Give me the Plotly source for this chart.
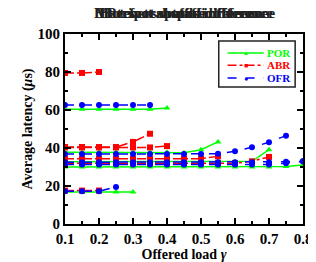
import plotly.graph_objects as go

# ---------------- data ----------------
loads = [0.10, 0.15, 0.20, 0.25, 0.30, 0.35, 0.40, 0.45, 0.50, 0.55, 0.60, 0.65, 0.70, 0.75, 0.80]
N = None

# POR (solid green, triangles)
por_a = [60.4, 60.4, 60.4, 60.4, 60.4, 60.4, 61.0, N, N, N, N, N, N, N, N]
por_b = [16.8, 16.8, 16.8, 16.8, 16.8, N, N, N, N, N, N, N, N, N, N]
por_c = [37.7, 37.7, 37.7, 37.7, 37.7, 37.7, 37.7, 37.5, 39.1, 43.2, N, N, N, N, N]
por_d = [32.8, 32.8, 32.8, 32.8, 32.8, 32.8, 32.8, 32.8, 32.8, 32.8, 32.8, 33.0, 39.1, N, N]
por_e = [30.0, 30.0, 30.0, 30.0, 30.0, 30.0, 30.0, 30.0, 30.0, 30.0, 30.0, 30.0, 30.0, 30.2, 31.0]

# ABR (dash-dot red, squares)
abr_a = [79.5, 79.5, 80.0, N, N, N, N, N, N, N, N, N, N, N, N]
abr_b = [17.6, 17.6, 17.6, N, N, N, N, N, N, N, N, N, N, N, N]
abr_c = [40.5, 40.5, 40.5, 40.5, 43.2, 47.5, N, N, N, N, N, N, N, N, N]
abr_f = [40.3, 40.3, 40.3, 40.3, 40.3, 40.3, 41.0, N, N, N, N, N, N, N, N]
abr_d = [34.3, 34.3, 34.3, 34.3, 34.3, 34.3, 34.3, 34.3, 34.4, 35.6, N, N, N, N, N]
abr_e = [32.0, 32.0, 32.0, 32.0, 32.0, 32.0, 32.0, 32.0, 32.0, 32.0, 32.0, 33.0, 35.3, N, N]

# OFR (dashed blue, circles)
ofr_a = [62.6, 62.6, 62.6, 62.6, 62.6, 62.6, N, N, N, N, N, N, N, N, N]
ofr_b = [17.2, 17.2, 17.2, 19.5, N, N, N, N, N, N, N, N, N, N, N]
ofr_c = [36.8, 36.8, 36.8, 36.8, 36.8, 36.8, 36.8, 36.8, 36.8, 37.0, 38.3, 40.4, 43.0, 46.5, N]
ofr_d = [32.5, 32.5, 32.5, 32.5, 32.5, 32.5, 32.5, 32.5, 32.5, 32.5, 32.5, 32.5, 32.5, 32.8, 33.0]
ofr_e = [31.3, 31.3, 31.3, 31.3, 31.3, 31.3, 31.3, 31.3, 31.3, 31.3, 31.3, 31.3, 31.3, 32.0, 33.0]

titles = ["Bit reversal traffic reference", "Hot spot spatial difference",
          "Matrix transpose difference", "Perfect shuffle influence"]

legend_names = ["POR", "ABR", "OFR"]

x_ticks = [0.1, 0.2, 0.3, 0.4, 0.5, 0.6, 0.7, 0.8]
y_ticks = [0, 20, 40, 60, 80, 100]

GREEN, RED, BLUE = "#00ff00", "#ff0000", "#0000ff"
FONT = "Liberation Serif, Times New Roman, serif"

fig = go.Figure()

def add(series_list, color, dash, symbol, size):
    for s in series_list:
        fig.add_trace(go.Scatter(
            x=loads, y=s, mode="lines+markers",
            line=dict(color=color, width=1.5, dash=dash),
            marker=dict(symbol=symbol, size=size, color=color),
            showlegend=False, connectgaps=False))

add([por_a, por_b, por_c, por_d, por_e], GREEN, "solid", "triangle-up", 6)
add([abr_a, abr_b, abr_c, abr_f, abr_d, abr_e], RED, "dashdot", "square", 6)
add([ofr_a, ofr_b, ofr_c, ofr_d, ofr_e], BLUE, "dash", "circle", 6)

# overlapping titles (as in the reference)
for t in titles:
    fig.add_annotation(text=f"<b>{t}</b>", x=0.5, y=1.0, xref="paper", yref="paper",
                       xanchor="center", yanchor="middle", yshift=21, showarrow=False,
                       font=dict(family=FONT, size=15, color="#222222"))

# manual legend (box, samples, labels) in paper coordinates
fig.add_shape(type="rect", xref="paper", yref="paper", x0=0.646, x1=0.967, y0=0.721, y1=0.963,
              line=dict(color="#222222", width=1.5), fillcolor="white", layer="above")
leg_y = [0.900, 0.835, 0.768]
leg_style = [(GREEN, "solid", "▲", 6), (RED, "dashdot", "■", 7), (BLUE, "dash", "●", 7)]
for name, yy, (col, dash, glyph, gs) in zip(legend_names, leg_y, leg_style):
    fig.add_shape(type="line", xref="paper", yref="paper", x0=0.683, x1=0.835, y0=yy, y1=yy,
                  line=dict(color=col, width=1.5, dash=dash), layer="above")
    fig.add_annotation(text=glyph, x=0.759, y=yy, xref="paper", yref="paper",
                       showarrow=False, xanchor="center", yanchor="middle",
                       font=dict(size=gs, color=col))
    fig.add_annotation(text=f"<b>{name}</b>", x=0.842, y=yy, xref="paper", yref="paper",
                       showarrow=False, xanchor="left", yanchor="middle",
                       font=dict(family=FONT, size=11, color=col))

axis_common = dict(showline=True, linecolor="black", linewidth=2, mirror="ticks",
                   ticks="inside", ticklen=6, tickwidth=1.5, tickcolor="black",
                   showgrid=False, zeroline=False,
                   tickfont=dict(family=FONT, size=15, color="black", weight="bold"))

fig.update_xaxes(range=[0.1, 0.8], tickvals=x_ticks, ticktext=[f"{v:.1f}" for v in x_ticks],
                 minor=dict(dtick=0.05, tick0=0.1, ticks="inside", ticklen=3, tickcolor="black"),
                 title=dict(text="<b>Offered load <i>γ</i></b>", standoff=1,
                            font=dict(family=FONT, size=14, color="black")),
                 **axis_common)
fig.update_yaxes(range=[0, 100], tickvals=y_ticks,
                 minor=dict(dtick=10, ticks="inside", ticklen=3, tickcolor="black"),
                 title=dict(text="<b>Average latency (<i>μ</i>s)</b>", standoff=2,
                            font=dict(family=FONT, size=14, color="black")),
                 **axis_common)

fig.update_layout(
    width=316, height=262,
    margin=dict(l=57, r=13, t=26, b=46),
    paper_bgcolor="white", plot_bgcolor="white",
    showlegend=False,
)

fig.write_html("out.html")
